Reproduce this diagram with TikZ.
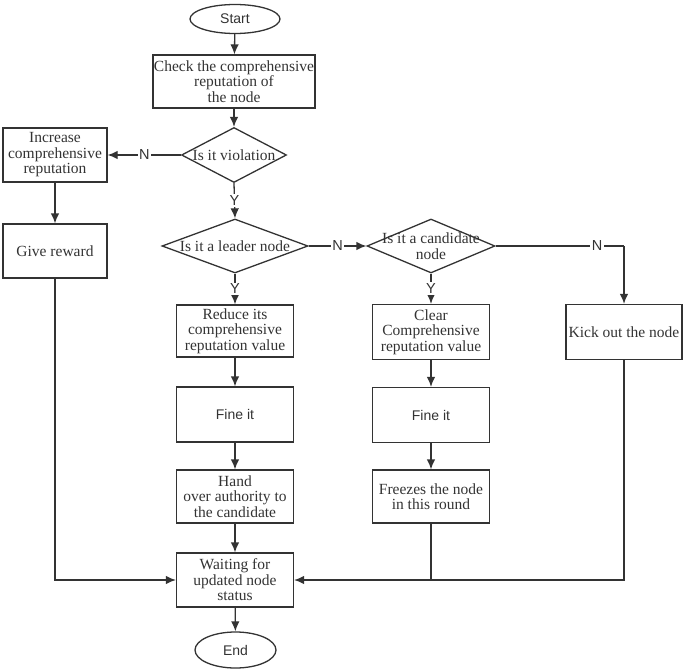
\documentclass[tikz,border=0pt]{standalone}
\usepackage{xcolor}
\usepackage{fontspec}
\setmainfont{Liberation Serif}
\setsansfont{Liberation Sans}
\usepackage{tikz}
\usetikzlibrary{positioning,shapes.geometric,arrows.meta}
\tikzset{
  base/.style={draw=black!80, text=black!80, line width=1.3pt, font=\fontsize{15.5}{15.5}\selectfont, align=center, inner sep=1pt},
  procbox/.style={base, rectangle},
  termnode/.style={base, ellipse, font=\sffamily\fontsize{14}{16}\selectfont},
  decision/.style={base, diamond},
  dtext/.style={text=black!80, font=\fontsize{15.5}{15.5}\selectfont, align=center, inner sep=0pt},
  arr/.style={draw=black!80, line width=1.3pt, -{Latex[length=10pt,width=8.5pt]}},
  line/.style={draw=black!80, line width=1.3pt},
  lbl/.style={fill=white, text=black!80, inner sep=1.5pt, font=\sffamily\fontsize{14.5}{16}\selectfont}
}

\begin{document}
\begin{tikzpicture}[x=1pt, y=-1pt]

\useasboundingbox (0,0) rectangle (685,671);

% Main column
\node[termnode, minimum width=90pt, minimum height=29pt] (start) at (235,19) {Start};
\node[procbox, minimum width=162pt, minimum height=53pt] (check) at (234,81.5) {Check the comprehensive\\reputation of\\the node};
\node[decision, minimum width=105pt, minimum height=55pt, label={[dtext]center:Is it violation}] (viol) at (234,155) {};

% Reward branch
\node[procbox, minimum width=104pt, minimum height=54pt] (incr) at (55,155) {Increase\\comprehensive\\reputation};
\node[procbox, minimum width=104pt, minimum height=54pt] (reward) at (55,251) {Give reward};

% Decisions on the node role
\node[decision, minimum width=146pt, minimum height=54pt, label={[dtext]center:Is it a leader node}] (leader) at (235,246) {};
\node[decision, minimum width=128pt, minimum height=54pt, label={[dtext]center:Is it a candidate\\node}] (cand) at (431,246) {};

% Leader column
\node[procbox, minimum width=117pt, minimum height=52pt] (reduce) at (235,331) {Reduce its\\comprehensive\\reputation value};
\node[procbox, minimum width=117pt, minimum height=55pt, font=\sffamily\fontsize{14}{16}\selectfont] (fineA) at (235,414.5) {Fine it};
\node[procbox, minimum width=117pt, minimum height=53pt] (hand) at (235,496.5) {Hand\\over authority to\\the candidate};

% Candidate column
\node[procbox, minimum width=117pt, minimum height=55pt] (clear) at (431,332) {Clear\\Comprehensive\\reputation value};
\node[procbox, minimum width=117pt, minimum height=55pt, font=\sffamily\fontsize{14}{16}\selectfont] (fineB) at (431,415) {Fine it};
\node[procbox, minimum width=117pt, minimum height=53pt] (freeze) at (431,496.5) {Freezes the node\\in this round};

% Other nodes
\node[procbox, minimum width=116pt, minimum height=55pt] (kick) at (624,332) {Kick out the node};

% Waiting and end
\node[procbox, minimum width=117pt, minimum height=54pt] (wait) at (235,580) {Waiting for\\updated node\\status};
\node[termnode, minimum width=81pt, minimum height=36pt] (end) at (235.5,650) {End};

% Connectors
\draw[arr] (start) -- (check);
\draw[arr] (check) -- (viol);
\draw[arr] (viol.west) -- node[lbl] {N} (incr.east);
\draw[arr] (incr) -- (reward);
\draw[arr] (viol.south) -- node[lbl] {Y} (leader.north);
\draw[arr] (leader.east) -- node[lbl] {N} (cand.west);
\draw[arr] (leader.south) -- node[lbl] {Y} (reduce.north);
\draw[arr] (cand.south) -- node[lbl] {Y} (clear.north);
\draw[line] (cand.east) -- node[lbl, pos=0.79] {N} (cand.east -| kick.north);
\draw[arr] (cand.east -| kick.north) -- (kick.north);

\draw[arr] (reduce) -- (fineA);
\draw[arr] (fineA) -- (hand);
\draw[arr] (hand) -- (wait);
\draw[arr] (clear) -- (fineB);
\draw[arr] (fineB) -- (freeze);

% Joining lines into the waiting box
\draw[arr] (reward.south) |- (wait.west);
\draw[line] (kick.south) |- (freeze.south |- wait.east);
\draw[arr] (freeze.south) |- (wait.east);
\draw[arr] (wait) -- (end);

\end{tikzpicture}
\end{document}
